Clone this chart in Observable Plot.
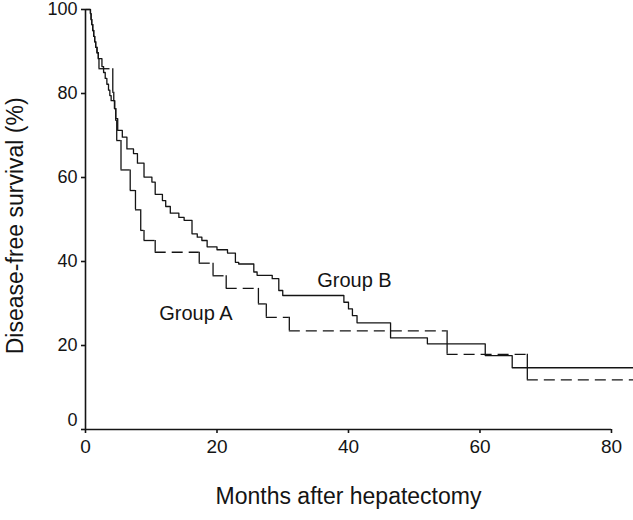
<!DOCTYPE html>
<html><head><meta charset="utf-8">
<script src="https://cdn.jsdelivr.net/npm/d3@7"></script>
<script src="https://cdn.jsdelivr.net/npm/@observablehq/plot@0.6"></script>
<style>body{margin:0;background:#fff}</style>
</head><body><div id="chart"></div>
<script>
// Kaplan-Meier style step data (months, disease-free survival %)
const groupA_months = [0, 0.75, 0.85, 0.95, 1.1, 1.25, 1.4, 1.55, 1.75, 1.95, 2.05, 4.15, 4.3, 4.45, 4.6, 4.75, 5.4, 6.8, 7.6, 8.4, 8.9, 10.6, 17.3, 19.4, 21.4, 26.3, 27.5, 31.0, 55.0, 67.2, 83.4];
const groupA_surv   = [100, 99, 97.6, 96.4, 95, 93.6, 92.3, 91, 89.7, 88.3, 85.9, 80.3, 78.3, 76.4, 73.6, 68.8, 61.8, 56.9, 52.3, 47.4, 45.0, 42.2, 39.6, 36.6, 33.6, 29.9, 26.7, 23.5, 17.9, 11.8, 11.8];

const groupB_months = [0, 0.75, 0.85, 0.95, 1.1, 1.25, 1.4, 1.55, 1.75, 1.95, 2.5, 2.75, 3.0, 3.25, 3.5, 3.7, 3.9, 4.4, 4.6, 4.9, 5.6, 6.3, 7.3, 7.9, 8.9, 10.1, 10.6, 11.7, 12.2, 12.9, 14.2, 15.0, 16.2, 17.0, 17.7, 18.5, 20.0, 21.6, 22.8, 23.3, 25.6, 26.1, 28.4, 29.4, 30.0, 39.3, 40.0, 40.6, 41.3, 46.4, 52.0, 60.8, 64.9, 83.4];
const groupB_surv   = [100, 99, 97.6, 96.4, 95, 93.6, 92.3, 91, 89.7, 88.3, 86.4, 85.0, 83.6, 82.2, 80.8, 79.5, 78.3, 76.4, 74.0, 71.2, 69.6, 66.8, 65.7, 63.4, 60.1, 58.9, 56.0, 54.5, 53.1, 51.5, 50.5, 49.8, 46.6, 45.8, 45.0, 43.5, 42.8, 42.0, 39.8, 39.4, 37.5, 36.7, 35.9, 33.1, 31.9, 30.3, 28.7, 27.1, 25.4, 21.8, 20.4, 17.6, 14.7, 14.7];

const xTicks = [0, 20, 40, 60, 80];
const yTicks = [0, 20, 40, 60, 80, 100];
const groupNames = ["Group A", "Group B"];
const xTitle = "Months after hepatectomy";
const yTitle = "Disease-free survival (%)";

// build step segments for group A (dashed horizontals, solid verticals)
const aH = [], aV = [];
for (let i = 0; i < groupA_months.length - 1; i++) {
  aH.push({x1: groupA_months[i], x2: groupA_months[i + 1], y: groupA_surv[i]});
  aV.push({x: groupA_months[i + 1], y1: groupA_surv[i], y2: groupA_surv[i + 1]});
}
const B = groupB_months.map((t, i) => ({t, s: groupB_surv[i]}));

const ink = "#141414";
const chart = Plot.plot({
  width: 633,
  height: 520,
  marginLeft: 85,
  marginRight: 0,
  marginTop: 9,
  marginBottom: 91,
  x: {domain: [0, 83.35]},
  y: {domain: [0, 100]},
  style: {fontFamily: "'Liberation Sans', Arial, sans-serif", color: ink, background: "#fff"},
  marks: [
    // axes lines
    Plot.ruleX([0], {y1: 0, y2: 100, stroke: ink, strokeWidth: 1.6}),
    Plot.ruleY([0], {x1: 0, x2: 80, stroke: ink, strokeWidth: 1.6}),
    Plot.axisY(yTicks, {tickSize: 4, tickPadding: 4, fontSize: 18, tickFormat: d => d === 0 ? "" : String(d), label: null, strokeWidth: 1.6}),
    Plot.text([yTicks[0]], {x: 0, y: d => d, text: d => String(d), dx: -8, dy: -9, textAnchor: "end", fontSize: 18, fill: ink}),
    Plot.axisX(xTicks, {tickSize: 4, tickPadding: 6, fontSize: 19, label: null, strokeWidth: 1.6}),
    // group A (dashed)
    Plot.ruleY(aH, {x1: "x1", x2: "x2", y: "y", stroke: ink, strokeWidth: 1.3, strokeDasharray: "11,6"}),
    Plot.ruleX(aV, {x: "x", y1: "y1", y2: "y2", stroke: ink, strokeWidth: 1.3}),
    // group B (solid)
    Plot.line(B, {x: "t", y: "s", curve: "step-after", stroke: ink, strokeWidth: 1.3}),
    // group labels
    Plot.text([groupNames[0]], {x: 16.8, y: 27.6, text: d => d, fontSize: 20, fill: ink}),
    Plot.text([groupNames[1]], {x: 40.9, y: 35.5, text: d => d, fontSize: 20, fill: ink}),
    // axis titles
    Plot.text([xTitle], {x: 40, y: 0, dy: 67, text: d => d, fontSize: 23, fill: ink}),
    Plot.text([yTitle], {x: 0, y: 48.5, dx: -70, rotate: -90, text: d => d, fontSize: 23, fill: ink})
  ]
});
document.getElementById("chart").appendChild(chart);
</script>
</body></html>
